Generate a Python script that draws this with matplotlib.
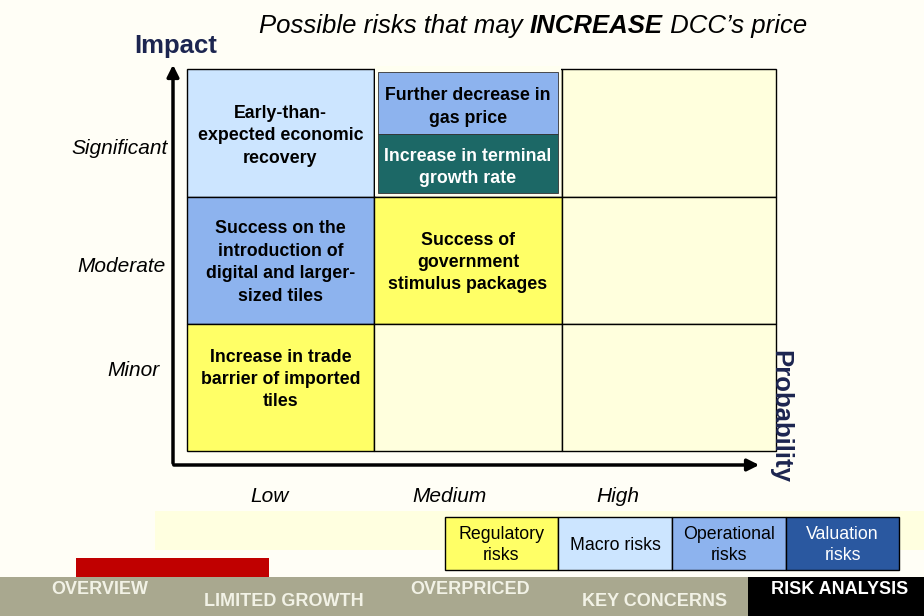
import matplotlib
matplotlib.use("Agg")
import matplotlib.pyplot as plt
from matplotlib.patches import Rectangle, Wedge

plt.rcParams["font.family"] = ["Liberation Sans", "DejaVu Sans"]

# chart content
impact_levels = ["Significant", "Moderate", "Minor"]
prob_levels = ["Low", "Medium", "High"]
risk_types = ["Regulatory\nrisks", "Macro risks", "Operational\nrisks", "Valuation\nrisks"]
# (row, col, risk type index, text); row 0 = Significant, col 0 = Low
risks = [
    (0, 0, 1, "Early-than-\nexpected economic\nrecovery"),
    (1, 0, 2, "Success on the\nintroduction of\ndigital and larger-\nsized tiles"),
    (1, 1, 0, "Success of\ngovernment\nstimulus packages"),
    (2, 0, 0, "Increase in trade\nbarrier of imported\ntiles"),
]
# the shared cell (Significant, Medium) holds two stacked risks
shared_cell = [(2, "Further decrease in\ngas price"), (3, "Increase in terminal\ngrowth rate")]
nav_items = ["OVERVIEW", "LIMITED GROWTH", "OVERPRICED", "KEY CONCERNS", "RISK ANALYSIS"]
title_parts = ["Possible risks that may ", "INCREASE", " DCC\u2019s price"]

type_colors = ["#FFFF66", "#CCE5FF", "#8DB3EE", "#2A58A0"]
type_text = ["black", "black", "black", "white"]
empty_color = "#FFFFDD"
bg = "#FFFEF6"

fig = plt.figure(figsize=(9.24, 6.16), dpi=100, facecolor=bg)
ax = fig.add_axes([0, 0, 1, 1])
ax.set_xlim(0, 924)
ax.set_ylim(616, 0)
ax.axis("off")

# grid geometry in pixels
col_x = [187, 374, 562, 776]
row_y = [69, 197, 324, 451]
row_shift = [3, 2, -8]

filled = {(r, c): (t, s) for r, c, t, s in risks}
for r in range(3):
    for c in range(3):
        x0, x1 = col_x[c], col_x[c + 1]
        y0, y1 = row_y[r], row_y[r + 1]
        if (r, c) in filled:
            t, s = filled[(r, c)]
            color = type_colors[t]
        else:
            color = empty_color
        ax.add_patch(Rectangle((x0, y0), x1 - x0, y1 - y0, facecolor=color,
                               edgecolor="black", lw=1, zorder=1))
        if (r, c) in filled:
            ax.text((x0 + x1) / 2, (y0 + y1) / 2 + row_shift[r], s, ha="center", va="center",
                    fontsize=12.8, fontweight="bold", color=type_text[t],
                    linespacing=1.42, zorder=3)

# shared cell with two stacked boxes
x0, x1 = col_x[1], col_x[2]
ax.add_patch(Rectangle((x0 + 1, row_y[0] - 3), x1 - x0 - 2, row_y[1] - row_y[0] + 2,
                       facecolor="#FFFFF0", edgecolor="none", zorder=2))
sub_y = [72, 134, 193]
sub_colors = ["#8DB3EE", "#1C6866"]
sub_text = ["black", "white"]
for i, (t, s) in enumerate(shared_cell):
    ax.add_patch(Rectangle((x0 + 4, sub_y[i]), x1 - x0 - 8, sub_y[i + 1] - sub_y[i],
                           facecolor=sub_colors[i], edgecolor="#333333", lw=0.6, zorder=2))
    ax.text((x0 + x1) / 2, (sub_y[i] + sub_y[i + 1]) / 2 + 4, s, ha="center", va="center",
            fontsize=12.8, fontweight="bold", color=sub_text[i], linespacing=1.42, zorder=3)

# axes arrows
ax.annotate("", xy=(173, 62), xytext=(173, 466),
            arrowprops=dict(arrowstyle="-|>,head_length=0.7,head_width=0.35", lw=2.5, color="black"))
ax.annotate("", xy=(762, 465), xytext=(171, 465),
            arrowprops=dict(arrowstyle="-|>,head_length=0.7,head_width=0.35", lw=2.5, color="black"))

ax.text(176, 46, "Impact", ha="center", va="center", fontsize=18.5, fontweight="bold", color="#1C2550")
ax.text(780, 416, "Probability", ha="center", va="center", rotation=-90, fontsize=18.5,
        fontweight="bold", color="#1C2550")

# title in three pieces, the middle one bold
prev = ax.text(259, 26, title_parts[0], ha="left", va="center", fontsize=18.5, style="italic")
prev = ax.annotate(title_parts[1], xy=(1, 0), xycoords=prev, ha="left", va="bottom",
                   fontsize=18.5, style="italic", fontweight="bold")
ax.annotate(title_parts[2], xy=(1, 0), xycoords=prev, ha="left", va="bottom",
            fontsize=18.5, style="italic")

label_y = [149, 266, 371]
label_x = [120, 121, 133]
for s, x, y in zip(impact_levels, label_x, label_y):
    ax.text(x, y, s, ha="center", va="center", fontsize=15, style="italic")
for s, x in zip(prob_levels, [270, 449, 618]):
    ax.text(x, 497, s, ha="center", va="center", fontsize=15, style="italic")

# legend band
ax.add_patch(Rectangle((155, 511), 769, 39, facecolor="#FFFFE0", edgecolor="none", zorder=1))
leg_x = [445, 558, 672, 786, 899]
for i, s in enumerate(risk_types):
    ax.add_patch(Rectangle((leg_x[i], 517), leg_x[i + 1] - leg_x[i], 53,
                           facecolor=type_colors[i], edgecolor="black", lw=1, zorder=2))
    ax.text((leg_x[i] + leg_x[i + 1]) / 2, 545, s, ha="center", va="center",
            fontsize=12.8, color=type_text[i], linespacing=1.38, zorder=3)

# navigation bar
ax.add_patch(Rectangle((76, 558), 193, 19, facecolor="#C00000", edgecolor="none", zorder=2))
ax.add_patch(Wedge((40, 580), 32, 0, 180, facecolor="#8A8A8A", edgecolor="#444444", lw=1, zorder=2))
ax.add_patch(Rectangle((0, 577), 924, 39, facecolor="#A9A88F", edgecolor="none", zorder=3))
ax.add_patch(Rectangle((748, 577), 176, 39, facecolor="black", edgecolor="none", zorder=3))
nav_x = [100, 284, 470, 655, 840]
nav_y = [590, 601, 590, 601, 590]
for i, s in enumerate(nav_items):
    ax.text(nav_x[i], nav_y[i], s, ha="center", va="center", fontsize=13, fontweight="bold",
            color="white" if i == 4 else "#F2F2E6", zorder=4)

fig.savefig("out.png", dpi=100, facecolor=bg)
